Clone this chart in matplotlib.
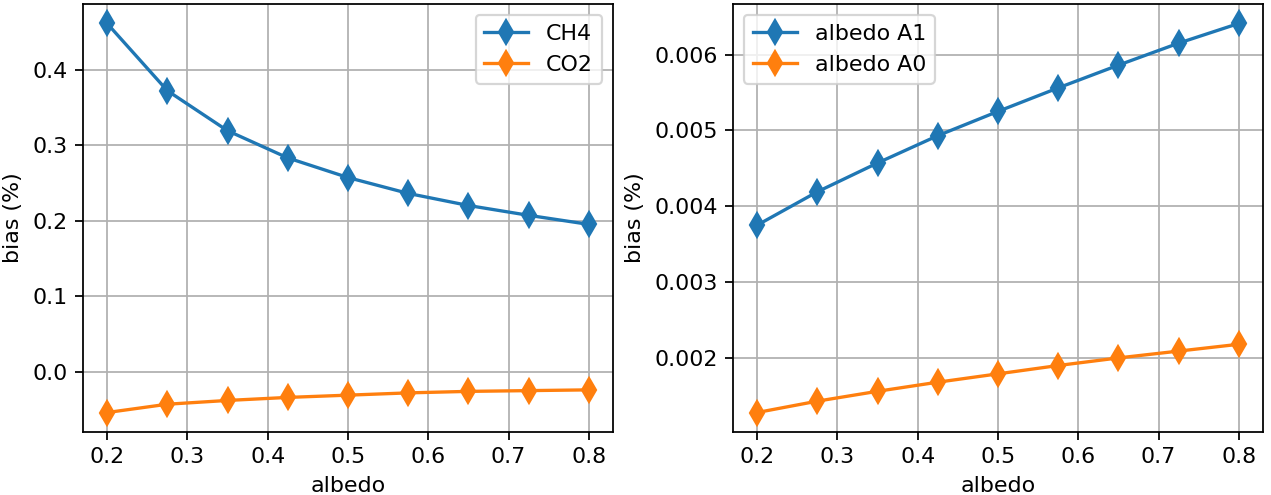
import matplotlib
matplotlib.use("Agg")
import matplotlib.pyplot as plt

albedo = [0.2, 0.275, 0.35, 0.425, 0.5, 0.575, 0.65, 0.725, 0.8]

ch4 = [0.461, 0.372, 0.319, 0.283, 0.257, 0.236, 0.220, 0.207, 0.195]
co2 = [-0.054, -0.043, -0.038, -0.034, -0.031, -0.028, -0.026, -0.025, -0.024]

a1 = [0.00375, 0.00419, 0.00457, 0.00493, 0.00525, 0.00556, 0.00586, 0.00615, 0.00641]
a0 = [0.00128, 0.00143, 0.00156, 0.00168, 0.00179, 0.00190, 0.00200, 0.00209, 0.00218]

dpi = 158.9
fig, (ax1, ax2) = plt.subplots(1, 2, figsize=(1271 / dpi, 495 / dpi), dpi=dpi)

ax1.plot(albedo, ch4, marker="d", markersize=8, label="CH4")
ax1.plot(albedo, co2, marker="d", markersize=8, label="CO2")
ax1.set_xlabel("albedo")
ax1.set_ylabel("bias (%)")
ax1.grid()
ax1.legend()

ax2.plot(albedo, a1, marker="d", markersize=8, label="albedo A1")
ax2.plot(albedo, a0, marker="d", markersize=8, label="albedo A0")
ax2.set_xlabel("albedo")
ax2.set_ylabel("bias (%)")
ax2.grid()
ax2.legend()

plt.subplots_adjust(left=0.0653, right=0.9937, top=0.992, bottom=0.1273, wspace=0.2264)
plt.savefig("out.png", dpi=dpi)
